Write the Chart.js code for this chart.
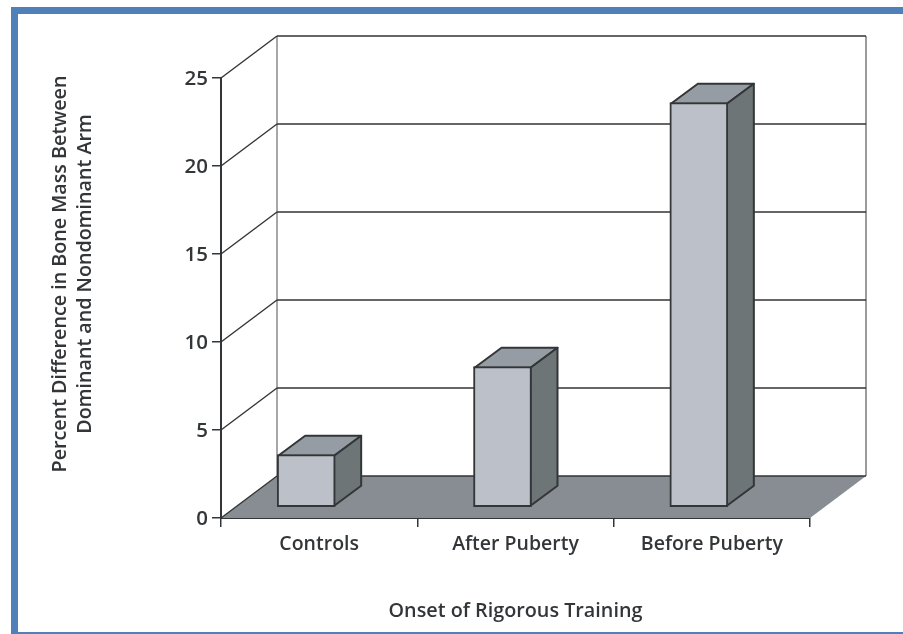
<!DOCTYPE html>
<html>
<head>
<meta charset="utf-8">
<title>Bone Mass Difference</title>
<script src="https://cdn.jsdelivr.net/npm/chart.js@4"></script>
<style>
    html, body { margin: 0; padding: 0; background: #fff; }
    #frame {
        position: absolute; left: 11px; top: 7px; width: 892px; height: 627px;
        box-sizing: border-box;
        border-left: 7px solid #4f80ba; border-top: 7px solid #4f80ba; border-bottom: 2px solid #4f80ba;
    }
    #boneChart { position: absolute; left: 0; top: 0; }
</style>
</head>
<body>
<div id="frame"></div>
<canvas id="boneChart" width="903" height="634"></canvas>
<script>
// Data grafik
const categories = ['Controls', 'After Puberty', 'Before Puberty'];
const boneMassDiff = [3, 8, 23];
const yTicks = [0, 5, 10, 15, 20, 25];
const yTitleLines = ['Percent Difference in Bone Mass Between', 'Dominant and Nondominant Arm'];
const xTitle = 'Onset of Rigorous Training';

const FONT = '"Open Sans"';
const INK = '#333638';

// Kedalaman ruang 3D (dinding belakang) dan kedalaman tiap batang
const ROOM_DX = 56, ROOM_DY = -42;
const BAR_DX = 27, BAR_DY = -20;
const BAR_SHIFT_X = -13, BAR_SHIFT_Y = -10.5;

function poly(ctx, pts, fill, stroke, lw) {
    ctx.beginPath();
    pts.forEach((p, i) => i ? ctx.lineTo(p[0], p[1]) : ctx.moveTo(p[0], p[1]));
    ctx.closePath();
    if (fill) { ctx.fillStyle = fill; ctx.fill(); }
    if (stroke) { ctx.strokeStyle = stroke; ctx.lineWidth = lw || 1.5; ctx.lineJoin = 'round'; ctx.stroke(); }
}

function line(ctx, x1, y1, x2, y2, color, lw) {
    ctx.beginPath();
    ctx.moveTo(x1, y1);
    ctx.lineTo(x2, y2);
    ctx.strokeStyle = color;
    ctx.lineWidth = lw;
    ctx.stroke();
}

// Lantai, dinding belakang, dan garis grid
const roomPlugin = {
    id: 'room',
    beforeDatasetsDraw(chart) {
        const ctx = chart.ctx;
        const { left, right } = chart.chartArea;
        const y = chart.scales.y;
        const y0 = y.getPixelForValue(yTicks[0]);
        const yTop = y.getPixelForValue(yTicks[yTicks.length - 1]);
        ctx.save();
        poly(ctx, [[left, y0], [right, y0], [right + ROOM_DX, y0 + ROOM_DY], [left + ROOM_DX, y0 + ROOM_DY]], '#878d93');
        line(ctx, left + ROOM_DX, yTop + ROOM_DY, left + ROOM_DX, y0 + ROOM_DY, '#8a8a8a', 1.5);
        line(ctx, right + ROOM_DX, yTop + ROOM_DY, right + ROOM_DX, y0 + ROOM_DY, '#7a7a7a', 1.5);
        yTicks.forEach(v => {
            const py = y.getPixelForValue(v);
            line(ctx, left, py, left + ROOM_DX, py + ROOM_DY, '#333', 1.4);
            line(ctx, left + ROOM_DX, py + ROOM_DY, right + ROOM_DX, py + ROOM_DY, '#333', 1.7);
        });
        ctx.restore();
    },
    // Sisi atas dan samping batang, batang digeser sedikit ke dalam ruang
    beforeDatasetDraw(chart, args) {
        const ctx = chart.ctx;
        ctx.save();
        ctx.translate(BAR_SHIFT_X, BAR_SHIFT_Y);
        args.meta.data.forEach(bar => {
            const l = bar.x - bar.width / 2 + 1, r = bar.x + bar.width / 2 - 1;
            const t = bar.y + 1, b = bar.base - 1;
            poly(ctx, [[l, t], [r, t], [r + BAR_DX, t + BAR_DY], [l + BAR_DX, t + BAR_DY]], '#969ca3', INK, 2);
            poly(ctx, [[r, t], [r + BAR_DX, t + BAR_DY], [r + BAR_DX, b + BAR_DY], [r, b]], '#6d7577', INK, 2);
        });
    },
    afterDatasetDraw(chart) {
        chart.ctx.restore();
    },
    // Judul sumbu Y dua baris
    afterDraw(chart) {
        const ctx = chart.ctx;
        ctx.save();
        ctx.translate(0, 274);
        ctx.rotate(-Math.PI / 2);
        ctx.font = '600 19.7px ' + FONT;
        ctx.fillStyle = INK;
        ctx.textAlign = 'center';
        ctx.textBaseline = 'middle';
        ctx.fillText(yTitleLines[0], 0, 60);
        ctx.fillText(yTitleLines[1], 0, 85);
        ctx.restore();
    }
};

const ctx = document.getElementById('boneChart').getContext('2d');
const chart = new Chart(ctx, {
    type: 'bar',
    data: {
        labels: categories,
        datasets: [{
            data: boneMassDiff,
            backgroundColor: '#bcc0c9',
            borderColor: INK,
            borderWidth: 2,
            borderSkipped: false,
            barThickness: 58,
            clip: false
        }]
    },
    plugins: [roomPlugin],
    options: {
        responsive: false,
        animation: false,
        layout: { padding: { top: 78, right: 93, left: 0, bottom: 0 } },
        plugins: {
            legend: { display: false },
            tooltip: { enabled: false }
        },
        scales: {
            x: {
                afterFit: s => { s.height = 116; },
                grid: { drawOnChartArea: false, color: INK, tickLength: 9, lineWidth: 1.5 },
                border: { color: INK, width: 2 },
                ticks: { color: INK, font: { family: FONT, size: 19.5, weight: '600' }, padding: 6, maxRotation: 0 },
                title: {
                    display: true,
                    text: xTitle,
                    color: INK,
                    font: { family: FONT, size: 19.8, weight: '600' },
                    padding: { top: 0, bottom: 11 }
                }
            },
            y: {
                min: yTicks[0],
                max: yTicks[yTicks.length - 1],
                afterFit: s => { s.width = 221; },
                afterBuildTicks: s => { s.ticks = yTicks.map(v => ({ value: v })); },
                grid: { drawOnChartArea: false, color: INK, tickLength: 9, lineWidth: 1.5 },
                border: { color: INK, width: 2 },
                ticks: { color: INK, font: { family: FONT, size: 20.5, weight: '600' }, padding: 4, labelOffset: 1 }
            }
        }
    }
});
</script>
</body>
</html>
